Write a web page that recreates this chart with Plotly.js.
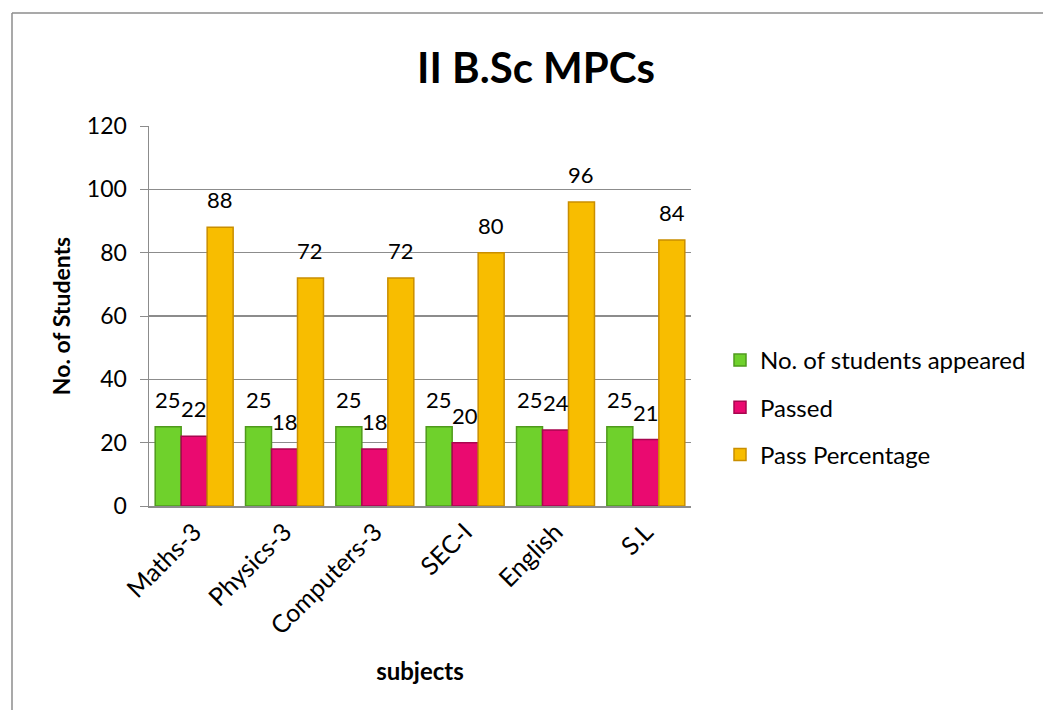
<!DOCTYPE html>
<html><head><meta charset="utf-8">
<script src="https://cdn.plot.ly/plotly-3.0.1.min.js"></script>
<style>html,body{margin:0;padding:0;background:#fff}#c{width:1043px;height:710px}</style>
</head><body><div id="c"></div>
<script>
const subjects = ["Maths-3","Physics-3","Computers-3","SEC-I","English","S.L"];
const appeared = [25,25,25,25,25,25];
const passed = [22,18,18,20,24,21];
const passPct = [88,72,72,80,96,84];
const seriesNames = ["No. of students appeared","Passed","Pass Percentage"];
const FONT = "Lato, 'Open Sans', sans-serif";
function tr(name, y, fill, edge, g){
  return {type:'bar', name:name, x:subjects, y:y, legendgroup:g,
    marker:{color:fill, line:{color:edge, width:1.5}}, hoverinfo:'x+y'};
}
const series = [appeared, passed, passPct];
const data = [
  tr(seriesNames[0], appeared, '#6fd12c', '#4f9a1c', 'a'),
  tr(seriesNames[1], passed, '#ea0a70', '#a8064f', 'b'),
  tr(seriesNames[2], passPct, '#f8bd00', '#c98e00', 'c')
];
const L=149,R=691,T=126,B=506;
const pw=R-L, ph=B-T;
const bargap=0.137;
const barPx = (pw/subjects.length)*(1-bargap)/series.length;
const annotations = [];
series.forEach((vals, i) => {
  vals.forEach((v, j) => {
    annotations.push({x:subjects[j], y:v, xref:'x', yref:'y', text:String(v), showarrow:false,
      xshift:(i-1)*barPx, yshift:12, yanchor:'bottom', xanchor:'center',
      font:{family:FONT, size:22, color:'#000'}});
  });
});
const layout = {
  width:1043, height:710,
  margin:{l:L, r:1043-R, t:T, b:710-B, pad:0},
  paper_bgcolor:'#fff', plot_bgcolor:'#fff',
  font:{family:FONT, size:21, color:'#000'},
  title:{text:'<b>II B.Sc MPCs</b>', font:{family:FONT, size:42, color:'#000'}, x:536/1043, xanchor:'center', y:1-68/710, yanchor:'middle'},
  barmode:'group', bargap:bargap, bargroupgap:0,
  xaxis:{tickangle:-45, showgrid:false, showline:true, linecolor:'#8c8c8c', linewidth:1.5,
    tickfont:{family:FONT, size:25}, ticks:'',
    title:{text:'<b>subjects</b>', font:{family:FONT, size:24}, standoff:24}},
  yaxis:{range:[0,120], dtick:20, showgrid:true, gridcolor:'#8c8c8c', gridwidth:1.5,
    showline:true, linecolor:'#8c8c8c', linewidth:1.5, ticks:'outside', ticklen:8, tickcolor:'#8c8c8c',
    tickfont:{family:FONT, size:23}, zeroline:false, ticklabelstandoff:8,
    title:{text:'<b>No. of Students</b>', font:{family:FONT, size:23}, standoff:10}},
  legend:{x:(720-L)/pw, y:(B-338)/ph, xanchor:'left', yanchor:'top', font:{family:FONT, size:24},
    traceorder:'grouped', tracegroupgap:13, bgcolor:'rgba(0,0,0,0)'},
  annotations:annotations,
  shapes:[
    {type:'line', xref:'paper', yref:'paper', x0:(12-L)/pw, x1:(1043-L)/pw, y0:(B-13)/ph, y1:(B-13)/ph, line:{color:'#8c8c8c', width:1.5}},
    {type:'line', xref:'paper', yref:'paper', x0:(12-L)/pw, x1:(12-L)/pw, y0:(B-13)/ph, y1:(B-712)/ph, line:{color:'#8c8c8c', width:1.5}}
  ],
  showlegend:true
};
Plotly.newPlot('c', data, layout, {displayModeBar:false, staticPlot:true});
</script></body></html>
